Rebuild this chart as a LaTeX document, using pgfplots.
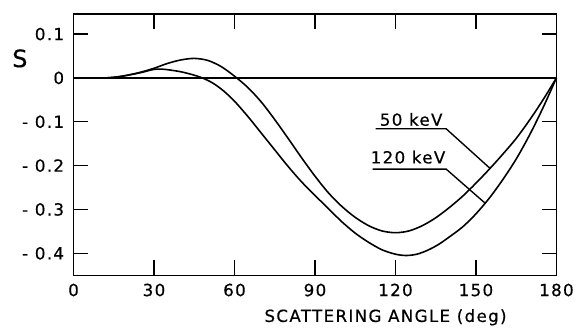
\documentclass[border=0pt]{standalone}
\usepackage{fontspec}
\setmainfont{DejaVu Sans}[FakeBold=0.5]
\usepackage{pgfplots}
\pgfplotsset{compat=1.18}
\newcommand{\lbl}{\fontsize{16.8bp}{19bp}\selectfont\addfontfeature{LetterSpace=8}}
\begin{document}
\begin{tikzpicture}
\begin{axis}[
  name=ax,
  scale only axis,
  width=486bp, height=263bp,
  xmin=0, xmax=180, ymin=-0.45, ymax=0.146,
  xtick={0,30,60,90,120,150,180},
  xticklabels={0,30,60,90,120,150,180},
  ytick={-0.4,-0.3,-0.2,-0.1,0,0.1},
  yticklabels={- 0.4,- 0.3,- 0.2,- 0.1,0,0.1},
  tick align=inside,
  major tick length=15bp,
  tick style={line width=1.4bp, black},
  axis line style={line width=1.4bp},
  ticklabel style={font=\lbl},
  xticklabel style={yshift=-5bp},
  yticklabel style={xshift=-6bp},
  clip=false,
]
\addplot[line width=1.6bp] coordinates {(0,0) (180,0)};
% 50 keV
\addplot[smooth, line width=1.6bp] coordinates {
(12,0) (16,0.002) (20,0.006) (25,0.013) (30,0.022) (35,0.033) (40,0.041)
(45,0.0445) (50,0.040) (55,0.026) (60,0.004) (65,-0.022) (70,-0.055)
(75,-0.095) (80,-0.138) (85,-0.182) (90,-0.224) (95,-0.262) (100,-0.293)
(105,-0.318) (110,-0.337) (115,-0.349) (120,-0.353) (125,-0.349)
(130,-0.337) (135,-0.319) (140,-0.296) (145,-0.270) (150,-0.240)
(155,-0.208) (160,-0.174) (165,-0.138) (170,-0.096) (175,-0.050) (180,0)};
% 120 keV
\addplot[smooth, line width=1.6bp] coordinates {
(12,0) (16,0.002) (20,0.006) (25,0.012) (30,0.0195) (33,0.020) (36,0.018)
(40,0.014) (44,0.008) (48,0.0) (52,-0.012) (56,-0.030) (60,-0.053)
(65,-0.088) (70,-0.126) (75,-0.164) (80,-0.202) (85,-0.237) (90,-0.268)
(95,-0.298) (100,-0.328) (105,-0.354) (110,-0.375) (115,-0.392)
(120,-0.402) (124,-0.405) (128,-0.402) (132,-0.393) (136,-0.380)
(140,-0.363) (145,-0.340) (150,-0.310) (155,-0.274) (160,-0.232)
(165,-0.185) (170,-0.130) (175,-0.068) (180,0)};
% annotations
\draw[line width=1.4bp] (axis cs:112.6,-0.116) -- (axis cs:138.9,-0.116) -- (axis cs:155.2,-0.206);
\draw[line width=1.4bp] (axis cs:111.5,-0.208) -- (axis cs:138.9,-0.208) -- (axis cs:153.3,-0.285);
\node[anchor=base west, inner sep=0pt, font=\lbl] at (axis cs:114.1,-0.109) {50 keV};
\node[anchor=base west, inner sep=0pt, font=\lbl] at (axis cs:110.7,-0.195) {120 keV};
\node[font=\fontsize{24bp}{28bp}\selectfont, inner sep=0pt] at (axis cs:-20,0.0445) {S};
\node[anchor=base, inner sep=0pt, font=\lbl] at (axis cs:116.3,-0.45) [yshift=-47bp] {SCATTERING ANGLE (deg)};
\end{axis}
\path (ax.south west) ++(-74bp,-55bp) coordinate (bl);
\path (ax.north east) ++(17bp,14bp) coordinate (tr);
\end{tikzpicture}
\end{document}
